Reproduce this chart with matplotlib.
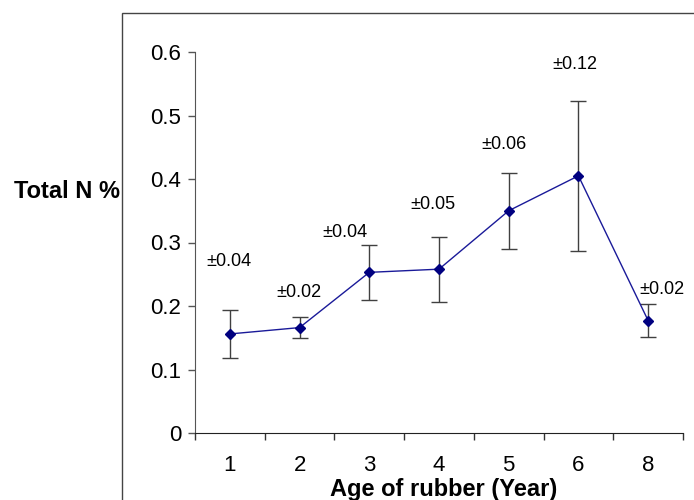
import matplotlib
matplotlib.use("Agg")
import matplotlib.pyplot as plt
from matplotlib.patches import Rectangle
from matplotlib.ticker import FixedLocator, NullFormatter

plt.rcParams['font.family'] = ['Liberation Sans', 'DejaVu Sans']

# data
ages = ['1', '2', '3', '4', '5', '6', '8']
total_n = [0.156, 0.166, 0.253, 0.258, 0.350, 0.405, 0.177]
err = [0.038, 0.016, 0.043, 0.051, 0.060, 0.118, 0.026]
err_labels = ['±0.04', '±0.02', '±0.04', '±0.05', '±0.06', '±0.12', '±0.02']
y_ticks = [0, 0.1, 0.2, 0.3, 0.4, 0.5, 0.6]
y_tick_labels = ['0', '0.1', '0.2', '0.3', '0.4', '0.5', '0.6']

# layout: label offsets (pixels) from top of error bar
label_offsets = [(-1, 48), (-0.5, 25), (-24, 13), (-6.5, 32), (-5, 28), (-4, 36), (14, 15)]

fig = plt.figure(figsize=(6.94, 5.0), dpi=100)
ax = fig.add_axes([195/694, 1-433/500, 488/694, 381/500])

# outer frame
fig.patches.append(Rectangle((121.5/694, -0.2), 1.2, 1.2 - 13/500,
                             transform=fig.transFigure, fill=False,
                             edgecolor='#444444', linewidth=1.0))

x = list(range(len(ages)))
ax.errorbar(x, total_n, yerr=err, fmt='none', ecolor='#404040',
            elinewidth=1.0, capsize=5.5, capthick=1.0, zorder=2)
ax.plot(x, total_n, color='#1a1a99', linewidth=1.0, marker='D',
        markersize=5.5, markerfacecolor='#000080', markeredgecolor='#000080',
        zorder=3)

for xi, m, e, lab, (dx, dy) in zip(x, total_n, err, err_labels, label_offsets):
    ax.annotate(lab, xy=(xi, m + e), xytext=(dx, dy), textcoords='offset pixels',
                ha='center', va='center', fontsize=13, color='black')

ax.set_xlim(-0.5, len(ages) - 0.5)
ax.set_ylim(0, 0.6)

ax.xaxis.set_major_locator(FixedLocator([i - 0.5 for i in range(len(ages) + 1)]))
ax.xaxis.set_major_formatter(NullFormatter())
ax.set_xticks(x, ages, minor=True)
ax.tick_params(axis='x', which='major', direction='out', length=5, width=1, color='#333333')
ax.tick_params(axis='x', which='minor', length=0, pad=16, labelsize=16)

ax.set_yticks(y_ticks, y_tick_labels)
ax.tick_params(axis='y', direction='out', length=5, width=1, color='#555555',
               pad=5, labelsize=16)

for s in ['top', 'right']:
    ax.spines[s].set_visible(False)
ax.spines['left'].set_color('#555555')
ax.spines['bottom'].set_color('#222222')

ax.set_ylabel('Total N %', rotation=0, fontsize=17, fontweight='bold',
              ha='center', va='center')
ax.yaxis.set_label_coords((67-195)/488, (433-191.7)/381)
ax.set_xlabel('Age of rubber (Year)', fontsize=17, fontweight='bold', va='center')
ax.xaxis.set_label_coords((444-195)/488, (433-489.5)/381)

fig.savefig('out.png', dpi=100)
